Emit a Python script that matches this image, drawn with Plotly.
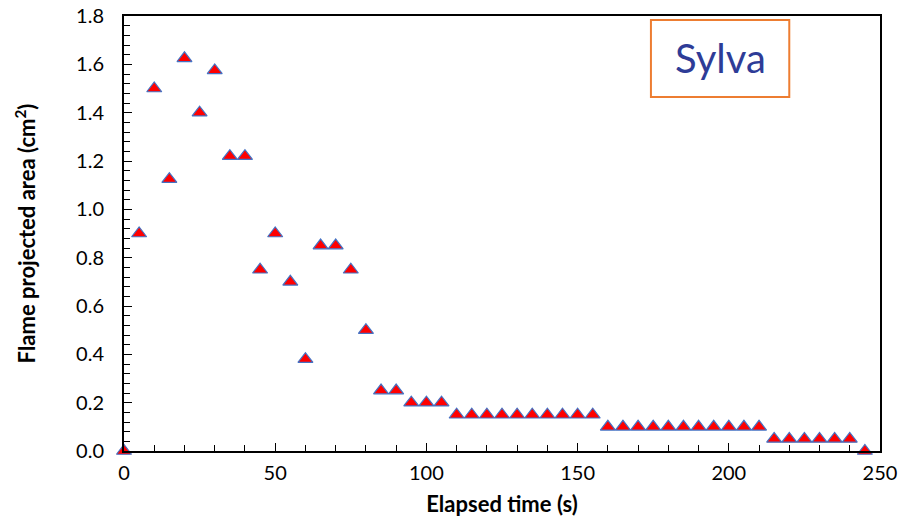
import plotly.graph_objects as go

elapsed_time = [0, 5, 10, 15, 20, 25, 30, 35, 40, 45, 50, 55, 60, 65, 70, 75, 80, 85, 90, 95,
                100, 105, 110, 115, 120, 125, 130, 135, 140, 145, 150, 155, 160, 165, 170, 175,
                180, 185, 190, 195, 200, 205, 210, 215, 220, 225, 230, 235, 240, 245]
flame_area = [0.0, 0.9, 1.5, 1.125, 1.625, 1.4, 1.575, 1.22, 1.22, 0.75, 0.9, 0.7, 0.38, 0.85, 0.85,
              0.75, 0.5, 0.25, 0.25, 0.2, 0.2, 0.2,
              0.15, 0.15, 0.15, 0.15, 0.15, 0.15, 0.15, 0.15, 0.15, 0.15,
              0.1, 0.1, 0.1, 0.1, 0.1, 0.1, 0.1, 0.1, 0.1, 0.1, 0.1,
              0.05, 0.05, 0.05, 0.05, 0.05, 0.05, 0.0]

FONT = "Lato, 'Open Sans', sans-serif"

fig = go.Figure()
fig.add_trace(go.Scatter(
    x=elapsed_time, y=flame_area, mode="markers",
    marker=dict(symbol="triangle-up", size=13, color="#FF0000",
                line=dict(color="#4472C4", width=1.2)),
    cliponaxis=False, showlegend=False,
))

axis_common = dict(
    showline=True, linecolor="black", linewidth=2, mirror=True,
    ticks="inside", ticklen=8, tickwidth=1, tickcolor="black",
    showgrid=False, zeroline=False, automargin=False,
    tickfont=dict(family=FONT, size=20, color="black"),
)

fig.update_xaxes(
    range=[0, 250], tickvals=[0, 50, 100, 150, 200, 250],
    minor=dict(dtick=10, ticks="inside", ticklen=6, tickcolor="black", showgrid=False),
    ticklabelstandoff=3,
    title=dict(text="<b>Elapsed time (s)</b>", font=dict(family=FONT, size=22, color="black"), standoff=14),
    **axis_common,
)
fig.update_yaxes(
    range=[0, 1.8], tickvals=[0, 0.2, 0.4, 0.6, 0.8, 1.0, 1.2, 1.4, 1.6, 1.8],
    tickformat=".1f",
    minor=dict(dtick=0.04, ticks="inside", ticklen=6, tickcolor="black", showgrid=False),
    ticklabelstandoff=14,
    title=dict(text="<b>Flame projected area (cm<sup>2</sup>)</b>", font=dict(family=FONT, size=22, color="black"), standoff=34),
    **axis_common,
)

fig.add_shape(type="rect", xref="paper", yref="paper",
              x0=0.697, x1=0.880, y0=0.814, y1=0.991,
              line=dict(color="#ED7D31", width=2), fillcolor="white", layer="above")
fig.add_annotation(xref="paper", yref="paper", x=0.7885, y=0.9025,
                   text="Sylva", showarrow=False, xanchor="center", yanchor="middle",
                   font=dict(family=FONT, size=40, color="#2E3C97"))

fig.update_layout(
    width=904, height=521,
    margin=dict(l=124, r=24, t=16, b=70),
    plot_bgcolor="white", paper_bgcolor="white",
)

fig.write_html("out.html")
